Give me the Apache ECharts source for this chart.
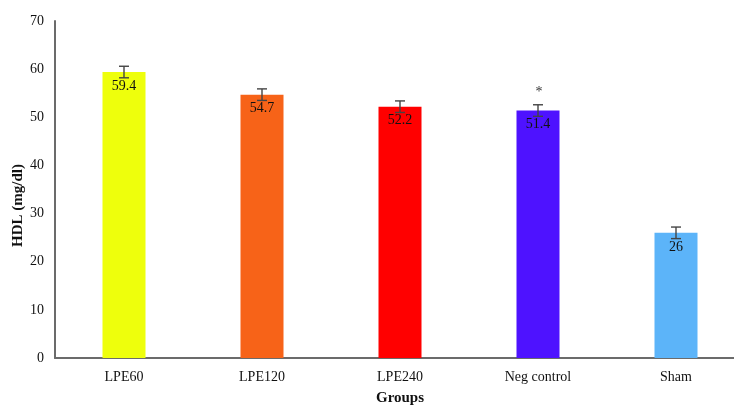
<!DOCTYPE html>
<html>
<head>
<meta charset="utf-8">
<script src="https://cdn.jsdelivr.net/npm/echarts@6/dist/echarts.min.js"></script>
<style>html,body{margin:0;padding:0;background:#fff}#c{width:734px;height:405px}</style>
</head>
<body>
<div id="c"></div>
<script>
const categories = ["LPE60", "LPE120", "LPE240", "Neg control", "Sham"];
const values = [59.4, 54.7, 52.2, 51.4, 26];
const errors = [1.2, 1.2, 1.2, 1.2, 1.2];
const marks = ["", "", "", "*", ""];
const colors = ["#EEFF0C", "#F76318", "#FF0000", "#4E12FF", "#5CB4F9"];
const yTicks = { min: 0, max: 70, interval: 10 };

const FONT = "Liberation Serif";
const chart = echarts.init(document.getElementById('c'), null, { renderer: 'canvas' });

chart.setOption({
  animation: false,
  backgroundColor: '#ffffff',
  grid: { left: 55, right: -11, top: 21, bottom: 47, containLabel: false, outerBoundsMode: 'none' },
  xAxis: {
    type: 'category',
    data: categories,
    name: 'Groups',
    nameLocation: 'middle',
    nameGap: 33,
    nameTextStyle: { fontFamily: FONT, fontWeight: 'bold', fontSize: 15, color: '#111' },
    axisLine: { lineStyle: { color: '#6b6b6b', width: 2 } },
    axisTick: { show: false },
    axisLabel: { fontFamily: FONT, fontSize: 14, color: '#111', margin: 12 }
  },
  yAxis: {
    type: 'value',
    min: yTicks.min, max: yTicks.max, interval: yTicks.interval,
    name: 'HDL (mg/dl)',
    nameLocation: 'middle',
    nameGap: 29,
    nameMoveOverlap: false,
    nameTextStyle: { fontFamily: FONT, fontWeight: 'bold', fontSize: 15, color: '#111', padding: [0, 32, 0, 0] },
    axisLine: { show: true, lineStyle: { color: '#6b6b6b', width: 2 } },
    axisTick: { show: false },
    splitLine: { show: false },
    axisLabel: { fontFamily: FONT, fontSize: 14, color: '#111', margin: 11 }
  },
  series: [
    {
      type: 'bar',
      barWidth: 43,
      data: values.map((v, i) => ({ value: v, itemStyle: { color: colors[i] } })),
      label: {
        show: true,
        position: 'insideTop',
        distance: 7,
        fontFamily: FONT,
        fontSize: 14,
        color: '#111'
      },
      z: 2
    },
    {
      type: 'custom',
      z: 5,
      data: values.map((v, i) => [i, v, errors[i]]),
      renderItem: function (params, api) {
        const i = api.value(0), v = api.value(1), e = api.value(2);
        const hi = api.coord([i, v + e]);
        const lo = api.coord([i, v - e]);
        const cap = 5;
        const style = { stroke: '#444', lineWidth: 1.4 };
        const children = [
          { type: 'line', shape: { x1: hi[0], y1: hi[1], x2: lo[0], y2: lo[1] }, style: style },
          { type: 'line', shape: { x1: hi[0] - cap, y1: hi[1], x2: hi[0] + cap, y2: hi[1] }, style: style },
          { type: 'line', shape: { x1: lo[0] - cap, y1: lo[1], x2: lo[0] + cap, y2: lo[1] }, style: style }
        ];
        if (marks[params.dataIndex]) {
          const p = api.coord([i, v + e + 2.6]);
          children.push({
            type: 'text',
            style: { text: marks[params.dataIndex], x: p[0] + 1, y: p[1], textAlign: 'center', textVerticalAlign: 'middle', font: '14px "Liberation Serif"', fill: '#333' }
          });
        }
        return { type: 'group', children: children };
      }
    }
  ]
});
</script>
</body>
</html>
